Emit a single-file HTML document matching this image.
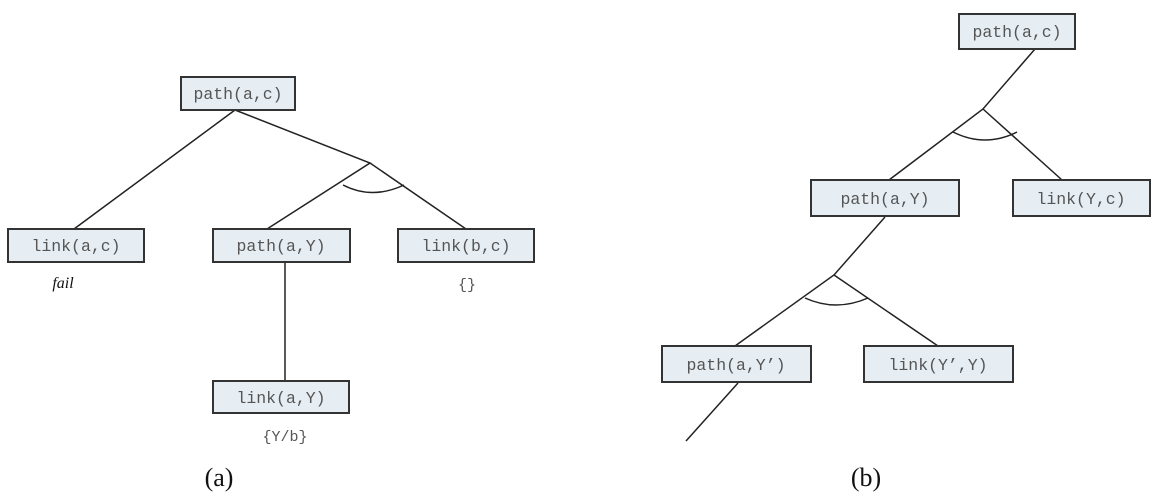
<!DOCTYPE html>
<html><head><meta charset="utf-8"><style>
html,body{margin:0;padding:0;background:#fff;}
svg{display:block;}
.b{fill:#e6eef4;stroke:#333;stroke-width:2;}
.t{font-family:"Liberation Mono",monospace;font-size:16.5px;fill:#555;text-anchor:middle;}
.l{stroke:#222;stroke-width:1.5;fill:none;}
.c{font-family:"Liberation Serif",serif;font-size:26px;fill:#111;text-anchor:middle;}
</style></head><body>
<svg width="1162" height="499" viewBox="0 0 1162 499">
<path class="l" d="M235 110 L74 229 M235 110 L370 163 L267 229 M370 163 L466 229 M285 262 L285 381"/>
<path class="l" d="M343 185 Q372 200 404 185"/>
<rect class="b" x="181" y="77" width="114" height="33"/>
<text class="t" x="238" y="99">path(a,c)</text>
<rect class="b" x="8" y="229" width="136" height="33"/>
<text class="t" x="76" y="251">link(a,c)</text>
<rect class="b" x="213" y="229" width="137" height="33"/>
<text class="t" x="281" y="251">path(a,Y)</text>
<rect class="b" x="398" y="229" width="136" height="33"/>
<text class="t" x="466" y="251">link(b,c)</text>
<rect class="b" x="213" y="381" width="136" height="32"/>
<text class="t" x="281" y="403">link(a,Y)</text>
<text x="63" y="288" style="font-family:'Liberation Serif',serif;font-style:italic;font-size:16px;fill:#111" text-anchor="middle">fail</text>
<text class="t" x="467" y="289" style="font-size:15px">{}</text>
<text class="t" x="285" y="441" style="font-size:15px">{Y/b}</text>
<text class="c" x="219" y="486">(a)</text>
<path class="l" d="M1035 49 L983 109 L889 180 M983 109 L1062 180 M885 217 L834 275 L735 346 M834 275 L938 346 M738 383 L686 441"/>
<path class="l" d="M953 132 Q985 148 1017 132 M805 298 Q836 312 868 298"/>
<rect class="b" x="959" y="14" width="116" height="35"/>
<text class="t" x="1017" y="37">path(a,c)</text>
<rect class="b" x="811" y="180" width="148" height="36"/>
<text class="t" x="885" y="204">path(a,Y)</text>
<rect class="b" x="1013" y="180" width="137" height="36"/>
<text class="t" x="1081" y="204">link(Y,c)</text>
<rect class="b" x="662" y="346" width="149" height="36"/>
<text class="t" x="736" y="370">path(a,Y’)</text>
<rect class="b" x="864" y="346" width="149" height="36"/>
<text class="t" x="938" y="370">link(Y’,Y)</text>
<text class="c" x="866" y="486">(b)</text>
</svg>
</body></html>
